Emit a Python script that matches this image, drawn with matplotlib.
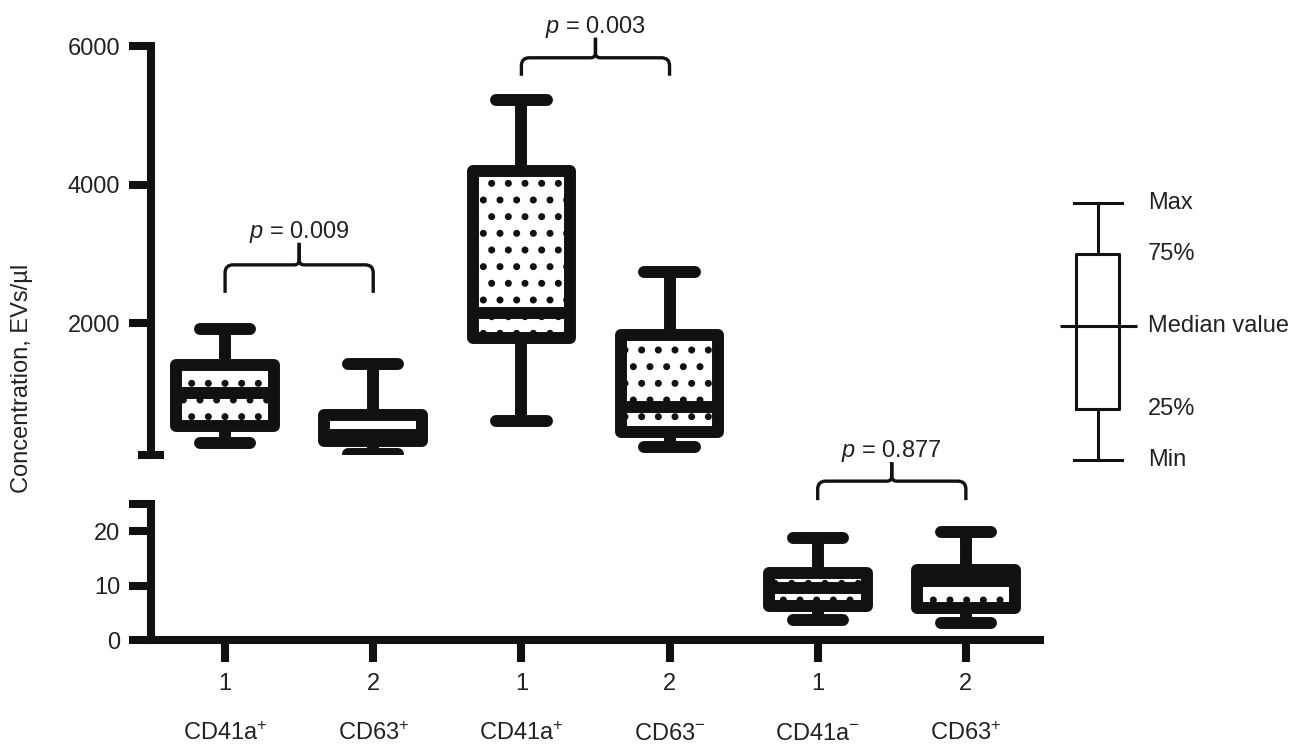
import numpy as np
import matplotlib
matplotlib.use('Agg')
import matplotlib.pyplot as plt
from matplotlib.path import Path
from matplotlib.patches import PathPatch

plt.rcParams['font.family'] = ['Liberation Sans', 'DejaVu Sans']
plt.rcParams['mathtext.fontset'] = 'custom'
plt.rcParams['mathtext.rm'] = 'Liberation Sans'
plt.rcParams['mathtext.it'] = 'Liberation Sans:italic'
plt.rcParams['hatch.linewidth'] = 2.6

# data
positions = [1, 2, 3, 4, 5, 6]
tick_labels = ['1', '2', '1', '2', '1', '2']
group_labels = ['CD41a$^{+}$', 'CD63$^{+}$', 'CD41a$^{+}$', 'CD63$^{-}$', 'CD41a$^{-}$', 'CD63$^{+}$']
mins = [270, 110, 590, 210, 3.6, 3.1]
q1s = [510, 300, 1780, 420, 6.2, 5.9]
medians = [990, 380, 2150, 790, 9.6, 10.8]
q3s = [1390, 670, 4200, 1830, 12.3, 12.9]
maxs = [1910, 1410, 5220, 2730, 18.7, 19.9]
upper_idx = [0, 1, 2, 3]
lower_idx = [4, 5]

# p-value brackets: (left position, right position, level, text)
brace_pairs = [(1, 2), (3, 4), (5, 6)]
brace_levels = [2840, 5830, 29.2]
brace_texts = ['$p$ = 0.009', '$p$ = 0.003', '$p$ = 0.877']

# legend key
key_values = [0, 1, 2.6, 4, 5]
key_labels = ['Min', '25%', 'Median value', '75%', 'Max']

INK = '#111111'
TXT = '#222222'
FS = 17
LW = 8.6

fig = plt.figure(figsize=(13.04, 7.47), dpi=100)
ax_up = fig.add_axes([0.1158, 0.3914, 0.6817, 0.5470])
ax_lo = fig.add_axes([0.1158, 0.1432, 0.6817, 0.1821])
ax_key = fig.add_axes([0.8052, 0.3636, 0.0767, 0.3853])


def stats_for(idx):
    return [dict(whislo=mins[i], q1=q1s[i], med=medians[i], q3=q3s[i],
                 whishi=maxs[i], fliers=[]) for i in idx]


def draw_boxes(ax, idx):
    ax.bxp(stats_for(idx), positions=[positions[i] for i in idx],
           widths=0.66, capwidths=0.34, patch_artist=True, showfliers=False,
           boxprops=dict(facecolor='white', edgecolor=INK, hatch='.',
                         linewidth=LW, joinstyle='round'),
           whiskerprops=dict(color=INK, linewidth=LW, solid_capstyle='butt'),
           capprops=dict(color=INK, linewidth=LW, solid_capstyle='round'),
           medianprops=dict(color=INK, linewidth=LW, solid_capstyle='butt'))


draw_boxes(ax_up, upper_idx)
draw_boxes(ax_lo, lower_idx)

for ax in (ax_up, ax_lo):
    ax.set_xlim(0.5, 6.5)
    ax.set_facecolor('none')
    for s in ('top', 'right'):
        ax.spines[s].set_visible(False)
    ax.spines['left'].set_linewidth(5.8)
    ax.spines['left'].set_color(INK)
    ax.tick_params(axis='y', which='major', direction='out', length=16,
                   width=5.8, color=INK, labelsize=FS, labelcolor=TXT, pad=6)

ax_up.set_ylim(100, 6000)
ax_up.spines['bottom'].set_visible(False)
ax_up.set_xticks([])
ax_up.set_yticks([2000, 4000, 6000])
ax_up.set_yticks([100], minor=True)
ax_up.tick_params(axis='y', which='minor', direction='inout', length=19,
                  width=5.8, color=INK)

ax_lo.set_ylim(0, 25)
ax_lo.set_yticks([0, 10, 20, 25], ['0', '10', '20', ''])
ax_lo.set_yticks([25], minor=True)
ax_lo.tick_params(axis='y', which='minor', direction='in', length=10,
                  width=5.8, color=INK)
ax_lo.spines['bottom'].set_linewidth(5.8)
ax_lo.spines['bottom'].set_color(INK)
ax_lo.set_xticks(positions, tick_labels)
ax_lo.tick_params(axis='x', direction='out', length=16, width=5.8, color=INK,
                  labelsize=FS, labelcolor=TXT, pad=8)

for pos, lab in zip(positions, group_labels):
    ax_lo.annotate(lab, xy=(pos, 0), xycoords=('data', 'axes fraction'),
                   xytext=(0, -72), textcoords='offset points',
                   ha='center', va='baseline', fontsize=FS, color=TXT)

fig.text(22 / 1304, 1 - 378 / 747, 'Concentration, EVs/\u00b5l', rotation=90,
         ha='center', va='center', fontsize=FS, color=TXT)


def draw_brace(ax, x1, x2, y, label, drop=22, rise=20, gap=5):
    ppx = ax.bbox.width / np.diff(ax.get_xlim())[0]
    ppy = ax.bbox.height / np.diff(ax.get_ylim())[0]
    rx, ry = 8 / ppx, 8 / ppy
    cx, cy = 5 / ppx, 5 / ppy
    xm = (x1 + x2) / 2
    dd, dr = drop / ppy, rise / ppy
    codes = [Path.MOVETO, Path.LINETO, Path.CURVE3, Path.CURVE3, Path.LINETO,
             Path.CURVE3, Path.CURVE3, Path.LINETO]
    for sgn, xe in ((1, x1), (-1, x2)):
        verts = [(xe, y - dd), (xe, y - ry), (xe, y), (xe + sgn * rx, y),
                 (xm - sgn * cx, y), (xm, y), (xm, y + cy), (xm, y + dr)]
        ax.add_patch(PathPatch(Path(verts, codes), fill=False, edgecolor=INK,
                               linewidth=2.4, clip_on=False))
    ax.text(xm, y + dr + gap / ppy, label, ha='center', va='baseline',
            fontsize=FS, color=TXT, clip_on=False)


draw_brace(ax_up, *brace_pairs[0], brace_levels[0], brace_texts[0], drop=28, rise=22)
draw_brace(ax_up, *brace_pairs[1], brace_levels[1], brace_texts[1], drop=18, rise=20)
draw_brace(ax_lo, *brace_pairs[2], brace_levels[2], brace_texts[2], drop=19, rise=19)

# legend key box
key_stats = [dict(whislo=key_values[0], q1=key_values[1], med=key_values[2],
                  q3=key_values[3], whishi=key_values[4], fliers=[])]
ax_key.bxp(key_stats, positions=[0.48], widths=0.43, capwidths=0.48,
           showfliers=False,
           boxprops=dict(color=INK, linewidth=2.2),
           whiskerprops=dict(color=INK, linewidth=2.2),
           capprops=dict(color=INK, linewidth=2.2),
           medianprops=dict(color='none'))
ax_key.hlines(key_values[2], 0.10, 0.87, color=INK, linewidth=2.2)
ax_key.set_xlim(0, 1)
ax_key.set_ylim(-0.3, 5.3)
for v, lab in zip(key_values, key_labels):
    ax_key.text(0.98, v, lab, ha='left', va='center', fontsize=FS, color=TXT,
                clip_on=False)
ax_key.axis('off')

fig.savefig('out.png', dpi=100)
